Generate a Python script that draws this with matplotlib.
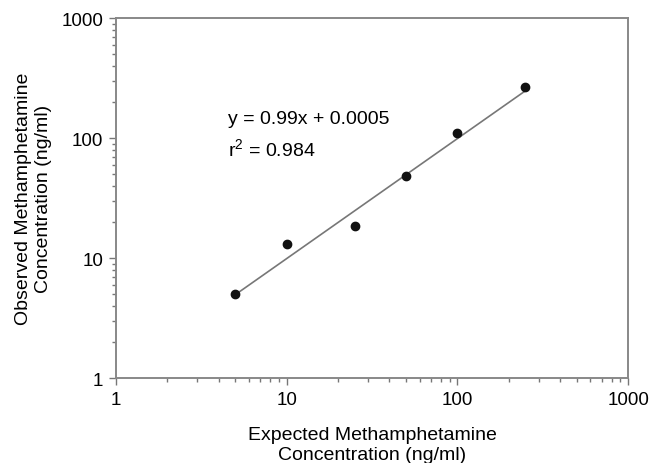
import numpy as np
import matplotlib
matplotlib.use("Agg")
from matplotlib import pyplot as plt
from matplotlib.ticker import LogLocator, FixedLocator, FixedFormatter

plt.rcParams['font.family'] = ['Liberation Sans', 'DejaVu Sans']
plt.rcParams['mathtext.fontset'] = 'custom'
plt.rcParams['mathtext.rm'] = 'Liberation Sans'

expected = [5, 10, 25, 50, 100, 250]  # ng/ml
observed = [5.0, 13.0, 18.6, 48, 111, 265]
slope = 0.99
intercept = 0.0005
tick_vals = [1, 10, 100, 1000]
tick_labels = ['1', '10', '100', '1000']

fig = plt.figure(figsize=(6.51, 4.64), dpi=100)
ax = fig.add_axes([0.178, 0.183, 0.787, 0.776])

xfit = np.array([min(expected), max(expected)])
ax.plot(xfit, slope * xfit + intercept, color='#777777', lw=1.2, zorder=2)
ax.plot(expected, observed, 'o', color='#111111', ms=6, zorder=3)

ax.set_xscale('log')
ax.set_yscale('log')
ax.set_xlim(1, 1000)
ax.set_ylim(1, 1000)

for axis in (ax.xaxis, ax.yaxis):
    axis.set_major_locator(FixedLocator(tick_vals))
    axis.set_major_formatter(FixedFormatter(tick_labels))
    axis.set_minor_locator(LogLocator(base=10, subs=np.arange(2, 10)))

ax.tick_params(which='major', direction='out', length=5, width=1, color='#777777',
               labelsize=13.5, labelcolor='black', pad=4)
ax.tick_params(which='minor', direction='out', length=3, width=1, color='#777777')
ax.xaxis.set_minor_formatter(plt.NullFormatter())
ax.yaxis.set_minor_formatter(plt.NullFormatter())

for s in ax.spines.values():
    s.set_color('#888888')
    s.set_linewidth(1.4)

ax.set_xlabel('Expected Methamphetamine\nConcentration (ng/ml)', fontsize=14,
              labelpad=13, linespacing=1.25)
ax.set_ylabel('Observed Methamphetamine\nConcentration (ng/ml)', fontsize=14,
              labelpad=7, linespacing=1.25)

ax.text(0.219, 0.72, 'y = 0.99x + 0.0005', transform=ax.transAxes,
        fontsize=14, va='center', ha='left')
ax.text(0.219, 0.638, r'r$^2$ = 0.984', transform=ax.transAxes,
        fontsize=14, va='center', ha='left')

fig.savefig('out.png', dpi=100)
